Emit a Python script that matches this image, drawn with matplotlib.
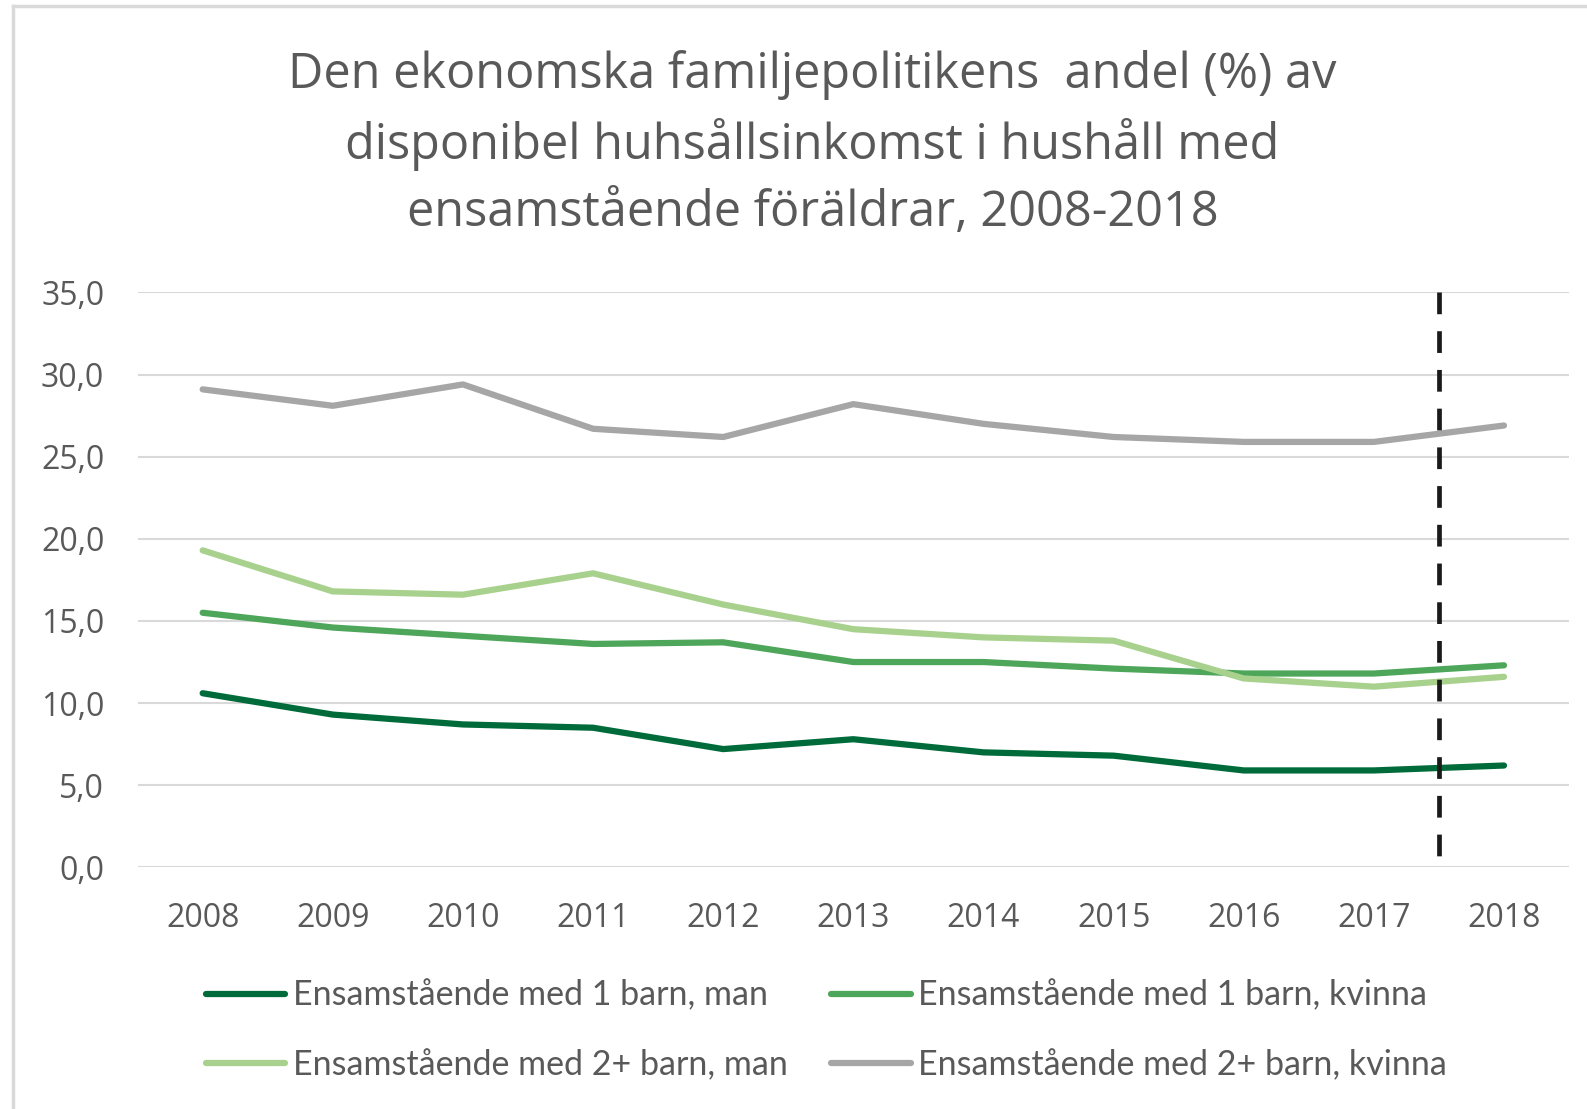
import matplotlib
matplotlib.use("Agg")
import matplotlib.pyplot as plt
from matplotlib.lines import Line2D

years = ["2008", "2009", "2010", "2011", "2012", "2013", "2014", "2015", "2016", "2017", "2018"]
man_1 = [10.6, 9.3, 8.7, 8.5, 7.2, 7.8, 7.0, 6.8, 5.9, 5.9, 6.2]
kvinna_1 = [15.5, 14.6, 14.1, 13.6, 13.7, 12.5, 12.5, 12.1, 11.8, 11.8, 12.3]
man_2 = [19.3, 16.8, 16.6, 17.9, 16.0, 14.5, 14.0, 13.8, 11.5, 11.0, 11.6]
kvinna_2 = [29.1, 28.1, 29.4, 26.7, 26.2, 28.2, 27.0, 26.2, 25.9, 25.9, 26.9]
labels = ["Ensamstående med 1 barn, man", "Ensamstående med 1 barn, kvinna",
          "Ensamstående med 2+ barn, man", "Ensamstående med 2+ barn, kvinna"]
yticks = [0, 5, 10, 15, 20, 25, 30, 35]
title = "Den ekonomska familjepolitikens  andel (%) av\ndisponibel huhsållsinkomst i hushåll med\nensamstående föräldrar, 2008-2018"

colors = ["#006b3a", "#4ea65a", "#a9d18e", "#a6a6a6"]
txt = "#595959"

fig = plt.figure(figsize=(15.87, 11.09), dpi=100)
ax = fig.add_axes([0.0867, 0.2179, 0.902, 0.5184])

x = list(range(len(years)))
series = [man_1, kvinna_1, man_2, kvinna_2]
handles = []
for s, c, l in zip(series, colors, labels):
    h, = ax.plot(x, s, color=c, lw=4.5, solid_capstyle="round", solid_joinstyle="round", label=l, zorder=3)
    handles.append(h)

ax.plot([9.5, 9.5], [35, 0], color="#1a1a1a", lw=3.4, dashes=(4.6, 3.6), zorder=4)

ax.set_xlim(-0.5, 10.5)
ax.set_ylim(0, 35)
ax.set_yticks(yticks)
ax.set_yticklabels([f"{v:.1f}".replace(".", ",") for v in yticks])
ax.set_xticks(x)
ax.set_xticklabels(years)
ax.grid(axis="y", color="#d9d9d9", lw=1.5, zorder=0)
for sp in ax.spines.values():
    sp.set_visible(False)
ax.tick_params(length=0, labelsize=23, labelcolor=txt, labelfontfamily="Open Sans")
ax.tick_params(axis="y", pad=24)
ax.tick_params(axis="x", pad=25)

fig.text(0.512, 0.8705, title, ha="center", va="center", fontsize=35, color=txt,
         family="Open Sans", linespacing=1.45)

# legend order: row 1 = 1 barn (man, kvinna), row 2 = 2+ barn (man, kvinna)
order = [0, 2, 1, 3]
leg = fig.legend(handles=[handles[i] for i in order], loc="center left",
                 bbox_to_anchor=(0.1295, 0.071), ncol=2,
                 frameon=False, handlelength=2.35, handletextpad=0.22, columnspacing=1.26,
                 labelspacing=1.1, borderaxespad=0, borderpad=0,
                 prop={"family": "Lato", "size": 24.5})
for t in leg.get_texts():
    t.set_color(txt)

# chart border (left & top visible)
fig.add_artist(Line2D([12.5 / 1587, 12.5 / 1587], [0, 1 - 5.5 / 1109], color="#d9d9d9", lw=2.5, transform=fig.transFigure))
fig.add_artist(Line2D([12.5 / 1587, 1], [1 - 5.5 / 1109, 1 - 5.5 / 1109], color="#d9d9d9", lw=2.5, transform=fig.transFigure))

fig.savefig("out.png", dpi=100, facecolor="white")
